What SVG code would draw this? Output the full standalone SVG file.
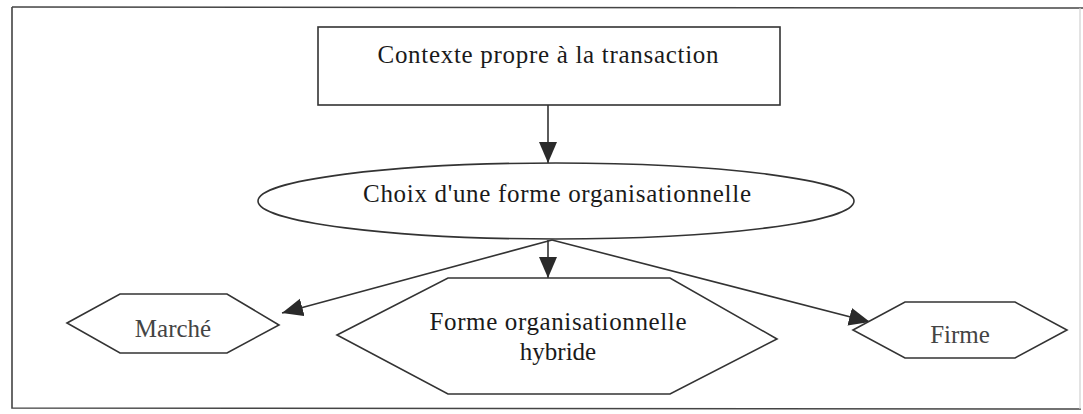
<svg xmlns="http://www.w3.org/2000/svg" width="1083" height="414" viewBox="0 0 1083 414">
  <style>
    .shape { fill: #ffffff; stroke: #333333; stroke-width: 1.6; }
    .frame { fill: none; stroke: #444444; stroke-width: 1.6; }
    .conn { fill: none; stroke: #333333; stroke-width: 1.6; }
    .lbl { font-family: "Liberation Serif", "Times New Roman", serif; font-size: 25px; fill: #1a1a1a; text-anchor: middle; }
    .lbl-grey { fill: #444444; }
  </style>
  <defs>
    <marker id="arrow" markerUnits="userSpaceOnUse" markerWidth="22" markerHeight="20" refX="21" refY="9" orient="auto">
      <path d="M0,0 L21,9 L0,18 Z" fill="#2a2a2a"/>
    </marker>
  </defs>
  <rect x="0" y="0" width="1083" height="414" fill="#ffffff"/>
  <g id="frame">
    <path class="frame" d="M12,7 L1083,8"/>
    <path class="frame" d="M12,7 L12,408 L1081,409"/>
    <path d="M1080,8 L1080,409" fill="none" stroke="#d0d0d0" stroke-width="1.2"/>
  </g>
  <g id="connectors">
    <path class="conn" d="M548,105 L548,163" marker-end="url(#arrow)"/>
    <path class="conn" d="M552,240 L282,313" marker-end="url(#arrow)"/>
    <path class="conn" d="M552,240 L870,322" marker-end="url(#arrow)"/>
    <path class="conn" d="M548,240 L548,278" marker-end="url(#arrow)"/>
  </g>
  <g id="node-contexte">
    <rect class="shape" x="318" y="27" width="462" height="78"/>
    <text class="lbl" x="548" y="63" textLength="341" lengthAdjust="spacing">Contexte propre à la transaction</text>
  </g>
  <g id="node-choix">
    <ellipse class="shape" cx="556" cy="201" rx="298" ry="38"/>
    <text class="lbl" x="557" y="202" textLength="388" lengthAdjust="spacing">Choix d'une forme organisationnelle</text>
  </g>
  <g id="node-marche">
    <polygon class="shape" points="67,323 120,294 227,294 279,325 227,353 120,353"/>
    <text class="lbl lbl-grey" x="173" y="337">Marché</text>
  </g>
  <g id="node-hybride">
    <polygon class="shape" points="337,335 448,278 670,278 777,339 670,394 448,394"/>
    <text class="lbl" x="558" y="330" textLength="257" lengthAdjust="spacing">Forme organisationnelle</text>
    <text class="lbl" x="558" y="360">hybride</text>
  </g>
  <g id="node-firme">
    <polygon class="shape" points="853,330 905,302 1015,302 1067,330 1015,358 905,358"/>
    <text class="lbl lbl-grey" x="960" y="343">Firme</text>
  </g>
</svg>
